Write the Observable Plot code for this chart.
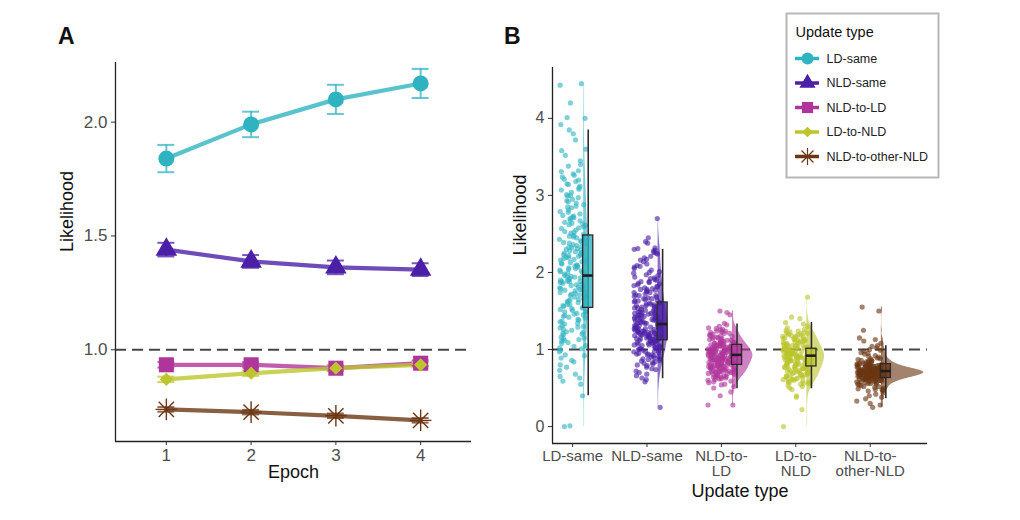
<!DOCTYPE html>
<html><head><meta charset="utf-8">
<script src="https://cdn.jsdelivr.net/npm/d3@7"></script>
<script src="https://cdn.jsdelivr.net/npm/@observablehq/plot@0.6"></script>
<style>
body{margin:0;background:#fff;font-family:"Liberation Sans",Arial,Helvetica,sans-serif;}
#wrap{position:relative;width:1020px;height:520px;overflow:hidden;background:#fff;}
.panel{position:absolute;top:0;}
.tag{position:absolute;font-weight:bold;font-size:23px;color:#111;line-height:1;}
</style></head><body><div id="wrap"></div>
<script>
// ---------- data ----------
const types = ["LD-same","NLD-same","NLD-to-LD","LD-to-NLD","NLD-to-other-NLD"];
const typeColors = ["#2fb3c1","#4b1fa6","#b0359b","#bcc52d","#6b3714"];
const epochs = [1,2,3,4];

// Panel A: mean likelihood per epoch and its standard error
const meanLDsame = [1.84, 1.99, 2.10, 2.17];
const seLDsame   = [0.060, 0.056, 0.064, 0.064];
const meanNLDsame = [1.440, 1.388, 1.362, 1.352];
const seNLDsame   = [0.030, 0.028, 0.030, 0.028];
const meanNLDtoLD = [0.934, 0.934, 0.919, 0.941];
const seNLDtoLD   = [0.012, 0.012, 0.012, 0.012];
const meanLDtoNLD = [0.870, 0.897, 0.919, 0.934];
const seLDtoNLD   = [0.012, 0.012, 0.012, 0.012];
const meanNLDother = [0.738, 0.726, 0.710, 0.690];
const seNLDother   = [0.010, 0.010, 0.010, 0.010];

// Panel B: individual likelihoods
const ptsLDsame = [0.00,0.01,0.40,0.55,0.59,0.63,0.65,0.68,0.73,0.77,0.80,0.84,0.86,0.89,0.92,0.93,0.97,0.99,
1.01,1.04,1.05,1.08,1.09,1.11,1.13,1.15,1.16,1.19,1.20,1.22,1.23,1.25,
1.26,1.28,1.29,1.31,1.33,1.34,1.36,1.37,1.39,1.41,1.42,1.44,1.45,1.47,1.48,1.49,
1.50,1.51,1.53,1.54,1.55,1.56,1.58,1.59,1.60,1.61,1.62,1.64,1.65,1.66,1.67,1.68,1.69,1.70,1.71,1.72,1.73,1.74,
1.75,1.76,1.77,1.78,1.79,1.80,1.81,1.83,1.84,1.85,1.86,1.87,1.88,1.89,1.90,1.91,1.92,1.93,1.94,1.95,1.96,1.97,1.98,1.99,
2.00,2.01,2.02,2.04,2.05,2.06,2.07,2.08,2.10,2.11,2.12,2.13,2.14,2.15,2.16,2.18,2.19,2.20,2.21,2.22,2.23,2.24,
2.25,2.27,2.28,2.29,2.30,2.32,2.33,2.34,2.35,2.37,2.38,2.39,2.41,2.42,2.43,2.44,2.45,2.46,2.48,2.49,
2.51,2.53,2.55,2.57,2.59,2.61,2.63,2.65,2.67,2.68,2.70,2.71,2.73,2.74,
2.76,2.79,2.81,2.84,2.86,2.88,2.90,2.93,2.95,2.97,2.99,
3.01,3.04,3.07,3.10,3.12,3.15,3.18,3.21,3.24,3.28,3.32,3.38,3.40,3.45,
3.52,3.58,3.60,3.72,3.80,3.85,3.92,4.00,4.01,4.20,4.43,4.45,
1.02,1.12,1.21,1.30,1.38,1.46,1.52,1.57,1.63,1.70,1.77,1.82,1.88,1.94,2.03,2.09,2.17,2.26,2.31,2.36,
2.40,2.47,2.52,2.58,2.64,2.72,2.78,2.85,2.92,3.00,3.08,3.14,3.20,3.26,3.31,1.14,1.43,1.88,2.22,2.62];
const ptsNLDsame = [0.25,0.58,0.61,0.63,0.66,0.68,0.70,0.72,0.74,0.75,0.77,0.79,
0.80,0.81,0.83,0.84,0.85,0.86,0.87,0.88,0.89,
0.90,0.91,0.92,0.93,0.93,0.94,0.95,0.96,0.97,0.97,0.98,0.99,
1.00,1.01,1.01,1.02,1.03,1.04,1.04,1.05,1.06,1.06,1.07,1.08,1.08,1.09,1.09,
1.10,1.11,1.11,1.12,1.12,1.13,1.14,1.14,1.15,1.15,1.16,1.16,1.17,1.17,1.18,1.18,1.19,1.19,
1.20,1.20,1.21,1.21,1.22,1.22,1.23,1.23,1.24,1.24,1.25,1.25,1.26,1.26,1.27,1.27,1.28,1.28,1.29,
1.30,1.30,1.31,1.31,1.32,1.33,1.33,1.34,1.34,1.35,1.35,1.36,1.36,1.37,1.38,1.38,1.39,1.39,
1.40,1.41,1.41,1.42,1.43,1.43,1.44,1.45,1.45,1.46,1.47,1.47,1.48,1.49,1.49,
1.50,1.51,1.52,1.53,1.54,1.55,1.56,1.56,1.57,1.58,1.59,1.59,1.60,
1.61,1.62,1.63,1.64,1.65,1.66,1.67,1.68,1.69,1.70,
1.71,1.72,1.74,1.75,1.76,1.77,1.78,1.79,1.80,
1.81,1.82,1.84,1.85,1.86,1.87,1.88,1.90,1.91,1.92,1.94,1.96,1.97,1.99,
2.01,2.03,2.05,2.07,2.09,2.11,2.14,2.17,2.19,
2.21,2.24,2.26,2.28,2.29,2.30,2.32,2.38,2.40,2.45,2.70,
0.82,0.88,0.94,0.98,1.02,1.05,1.08,1.11,1.13,1.16,1.19,1.21,1.23,1.25,1.27,1.29,1.31,1.33,1.35,1.37,
1.40,1.42,1.44,1.46,1.48,1.51,1.54,1.57,1.60,1.63,1.66,1.70,1.74,1.78,1.83,1.88,1.93,2.00,2.08,2.16,2.25,2.31];
const ptsNLDtoLD = [0.28,0.28,0.40,0.45,
0.50,0.52,0.54,0.55,0.57,0.58,0.59,
0.60,0.61,0.62,0.63,0.64,0.64,0.65,0.66,0.67,0.67,0.68,0.69,0.69,
0.70,0.70,0.71,0.71,0.72,0.72,0.73,0.73,0.74,0.74,0.75,0.75,0.76,0.76,0.77,0.77,0.78,0.78,0.79,0.79,0.79,
0.80,0.80,0.81,0.81,0.82,0.82,0.83,0.83,0.84,0.84,0.84,0.85,0.85,0.86,0.86,0.87,0.87,0.87,0.88,0.88,0.89,0.89,0.89,
0.90,0.90,0.91,0.91,0.91,0.92,0.92,0.92,0.93,0.93,0.93,0.94,0.94,0.94,0.95,0.95,0.96,0.96,0.96,0.97,0.97,0.98,0.98,0.98,0.99,0.99,
1.00,1.00,1.01,1.01,1.02,1.02,1.03,1.03,1.04,1.04,1.05,1.05,1.06,1.06,1.07,1.07,1.08,1.08,1.09,1.09,1.10,
1.11,1.11,1.12,1.13,1.14,1.15,1.16,1.17,1.18,1.19,1.20,1.21,1.22,1.23,1.24,1.25,1.26,1.27,1.28,1.30,1.32,1.34,
1.45,1.48,1.50,
0.62,0.66,0.68,0.71,0.73,0.74,0.76,0.77,0.78,0.80,0.81,0.82,0.83,0.84,0.85,0.86,0.87,0.88,0.88,0.89,
0.90,0.91,0.92,0.92,0.93,0.94,0.95,0.95,0.96,0.97,0.98,0.99,1.00,1.01,1.02,1.03,1.04,1.05,1.06,1.07,
1.08,1.10,1.12,1.14,1.16,1.18,1.21,1.24,0.70,0.75,0.79,0.87,0.91,0.94,0.97,1.00,0.64,0.72,1.09,1.13];
const ptsLDtoNLD = [0.00,0.22,0.38,0.40,
0.48,0.50,0.52,0.53,0.55,0.56,0.57,0.58,0.59,
0.60,0.61,0.62,0.63,0.64,0.65,0.66,0.66,0.67,0.68,0.69,
0.70,0.70,0.71,0.72,0.72,0.73,0.74,0.74,0.75,0.76,0.76,0.77,0.78,0.78,0.79,0.79,
0.80,0.80,0.81,0.82,0.82,0.83,0.83,0.84,0.84,0.85,0.85,0.86,0.86,0.87,0.87,0.88,0.88,0.89,0.89,
0.90,0.90,0.91,0.91,0.92,0.92,0.92,0.93,0.93,0.94,0.94,0.95,0.95,0.96,0.96,0.97,0.97,0.98,0.98,0.99,0.99,
1.00,1.00,1.01,1.01,1.02,1.03,1.03,1.04,1.05,1.05,1.06,1.07,1.07,1.08,1.09,1.10,
1.11,1.12,1.13,1.14,1.15,1.16,1.17,1.18,1.19,1.20,1.21,1.22,1.23,1.24,1.26,1.28,1.30,1.33,1.35,
1.40,1.42,1.68,
0.56,0.59,0.62,0.64,0.67,0.69,0.71,0.73,0.75,0.77,0.79,0.81,0.83,0.85,0.87,0.89,0.90,0.91,0.93,0.94,
0.95,0.97,0.98,0.99,1.00,1.02,1.04,1.06,1.08,1.10,1.12,1.14,1.16,1.18,1.20,1.22,1.25,0.61,0.66,0.70,
0.74,0.78,0.82,0.86,0.88,0.92,0.96,1.01,1.05,1.09,1.13,1.17,1.21,0.58,0.68,0.80,0.84,0.93,1.03,1.11];
const ptsNLDother = [0.25,0.28,0.30,0.33,0.36,0.38,0.40,0.42,0.44,0.46,0.47,0.48,0.49,
0.50,0.51,0.52,0.53,0.54,0.55,0.56,0.56,0.57,0.58,0.58,0.59,0.59,
0.60,0.60,0.61,0.61,0.61,0.62,0.62,0.62,0.63,0.63,0.63,0.63,0.64,0.64,0.64,0.64,
0.65,0.65,0.65,0.65,0.65,0.66,0.66,0.66,0.66,0.66,0.67,0.67,0.67,0.67,0.67,0.67,
0.68,0.68,0.68,0.68,0.68,0.68,0.69,0.69,0.69,0.69,0.69,0.69,
0.70,0.70,0.70,0.70,0.70,0.70,0.70,0.71,0.71,0.71,0.71,0.71,0.71,0.72,0.72,0.72,0.72,0.72,0.72,
0.73,0.73,0.73,0.73,0.73,0.73,0.74,0.74,0.74,0.74,0.74,
0.75,0.75,0.75,0.75,0.76,0.76,0.76,0.76,0.77,0.77,0.77,0.78,0.78,0.78,0.79,0.79,0.79,
0.80,0.80,0.81,0.81,0.82,0.82,0.83,0.84,0.85,0.86,0.87,0.88,0.89,
0.90,0.92,0.94,0.96,0.98,1.00,1.02,1.05,1.08,1.11,1.13,1.15,1.25,1.50,1.55,
0.48,0.52,0.55,0.57,0.59,0.61,0.62,0.63,0.64,0.65,0.66,0.66,0.67,0.68,0.68,0.69,0.69,0.70,0.70,0.70,
0.71,0.71,0.72,0.72,0.73,0.73,0.74,0.74,0.75,0.76,0.77,0.78,0.79,0.80,0.82,0.84,0.86,0.88,0.91,0.95,
0.99,1.04,0.58,0.60,0.64,0.67,0.71,0.75,0.81,0.85];

// Panel B box-plot statistics
const boxQ1  = [1.54, 1.12, 0.80, 0.78, 0.63];
const boxMed = [1.96, 1.33, 0.93, 0.92, 0.72];
const boxQ3  = [2.48, 1.61, 1.06, 1.01, 0.81];
const whiskLo = [0.40, 0.62, 0.49, 0.49, 0.36];
const whiskHi = [3.85, 2.30, 1.33, 1.35, 1.05];

// Tick labels
const tickLabelsB = ["LD-same","NLD-same","NLD-to-\nLD","LD-to-\nNLD","NLD-to-\nother-NLD"];
const ticksA = [1.0, 1.5, 2.0];
const ticksB = [0, 1, 2, 3, 4];

// ---------- build tables ----------
const font = '"Liberation Sans", Arial, Helvetica, sans-serif';
const meansA = [meanLDsame, meanNLDsame, meanNLDtoLD, meanLDtoNLD, meanNLDother];
const sesA = [seLDsame, seNLDsame, seNLDtoLD, seLDtoNLD, seNLDother];
const dataA = types.flatMap((t, k) => epochs.map((e, i) => ({type: t, epoch: e, value: meansA[k][i], se: sesA[k][i]})));
const shapeA = ["circle", "triangle", "square", "diamond2"];
const rA = [8, 8, 8.5, 6];

// horizontal jitter position: deterministic integer hash of the point index (layout only)
function jitter(i) {
  let h = (i + 1) | 0;
  h ^= h >>> 16; h = Math.imul(h, 0x45d9f3b);
  h ^= h >>> 16; h = Math.imul(h, 0x45d9f3b);
  h ^= h >>> 16;
  return (h >>> 0) / 4294967296 - 0.5;
}
const ptsAll = [ptsLDsame, ptsNLDsame, ptsNLDtoLD, ptsLDtoNLD, ptsNLDother];
const cloud = ptsAll.flatMap((arr, k) => arr.map((v, i) => ({type: types[k], g: k + 1, v, j: jitter(i + 1000 * k)})));
const boxes = types.map((t, k) => ({type: t, g: k + 1, q1: boxQ1[k], med: boxMed[k], q3: boxQ3[k], lo: whiskLo[k], hi: whiskHi[k]}));

function kde(values) {
  const v = d3.sort(values);
  const n = v.length, sd = d3.deviation(v), iqr = d3.quantile(v, 0.75) - d3.quantile(v, 0.25);
  const h = 0.9 * Math.min(sd, iqr / 1.34) * Math.pow(n, -0.2);
  const lo = v[0], hi = v[n - 1];
  return d3.range(0, 161).map(s => {
    const y = lo + (hi - lo) * s / 160;
    return {y, d: d3.mean(v, x => Math.exp(-0.5 * ((y - x) / h) ** 2)) / (h * Math.sqrt(2 * Math.PI))};
  });
}
const violin = ptsAll.flatMap((arr, k) => kde(arr).map(p => ({type: types[k], g: k + 1, y: p.y, d: p.d})));
const maxD = d3.max(violin, p => p.d);
const vScale = 0.57 / maxD;
const ranges = ptsAll.map((arr, k) => ({type: types[k], g: k + 1, lo: d3.min(arr), hi: d3.max(arr)}));

const wrap = document.getElementById("wrap");
function place(node, left, top) {
  const d = document.createElement("div");
  d.className = "panel"; d.style.left = left + "px"; d.style.top = top + "px";
  d.appendChild(node); wrap.appendChild(d);
}
const tickStyle = {tickSize: 4, stroke: "#333", label: null, tickFormat: () => ""};
const dash = {stroke: "#454545", strokeWidth: 2, strokeDasharray: "11,6"};

// ---------- Panel A ----------
const xDomA = [0.4, 4.6], yDomA = [0.597, 2.262];
const dotMarksA = shapeA.map((s, k) => Plot.dot(dataA.filter(d => d.type === types[k]),
  {x: "epoch", y: "value", symbol: s, r: rA[k], fill: "type", stroke: "none"}));
const brownA = dataA.filter(d => d.type === types[4]);
const plotA = Plot.plot({
  width: 500, height: 520, marginLeft: 115, marginRight: 29, marginTop: 62, marginBottom: 79,
  style: {fontFamily: font, fontSize: "16px", background: "transparent", overflow: "visible"},
  x: {domain: xDomA}, y: {domain: yDomA},
  color: {domain: types, range: typeColors},
  marks: [
    Plot.ruleY([1], dash),
    Plot.line(dataA, {x: "epoch", y: "value", z: "type", stroke: "type", strokeWidth: 4.2, strokeOpacity: 0.8}),
    Plot.ruleX(dataA, {x: "epoch", y1: d => d.value - d.se, y2: d => d.value + d.se, stroke: "type", strokeWidth: 2, strokeOpacity: 0.75}),
    Plot.ruleY(dataA, {y: d => d.value - d.se, x1: d => d.epoch - 0.1, x2: d => d.epoch + 0.1, stroke: "type", strokeWidth: 2, strokeOpacity: 0.75}),
    Plot.ruleY(dataA, {y: d => d.value + d.se, x1: d => d.epoch - 0.1, x2: d => d.epoch + 0.1, stroke: "type", strokeWidth: 2, strokeOpacity: 0.75}),
    ...dotMarksA,
    Plot.dot(brownA, {x: "epoch", y: "value", symbol: "plus", r: 7, fill: "none", stroke: "type", strokeWidth: 1.4}),
    Plot.dot(brownA, {x: "epoch", y: "value", symbol: "times", r: 7, fill: "none", stroke: "type", strokeWidth: 1.4}),
    Plot.ruleX([xDomA[0]], {stroke: "#222", strokeWidth: 1.3}),
    Plot.ruleY([yDomA[0]], {stroke: "#222", strokeWidth: 1.3}),
    Plot.axisX(epochs, tickStyle),
    Plot.axisY(ticksA, tickStyle),
    Plot.text(epochs, {x: d => d, frameAnchor: "bottom", dy: 7, lineAnchor: "top", text: d => String(d), fontSize: 17, fill: "#4d4d4d"}),
    Plot.text(ticksA, {y: d => d, frameAnchor: "left", dx: -8, textAnchor: "end", text: d3.format(".1f"), fontSize: 17, fill: "#4d4d4d"}),
    Plot.text(["Epoch"], {frameAnchor: "bottom", dy: 36, fontSize: 18, fill: "#111"}),
    Plot.text(["Likelihood"], {frameAnchor: "left", dx: -48, rotate: -90, fontSize: 18, fill: "#111"})
  ]
});
place(plotA, 0, 0);

// ---------- Panel B ----------
const xDomB = [0.73, 5.77], yDomB = [-0.22, 4.66];
const vOff = 0.15, bOff = 0.21, bHalf = 0.068, jitW = 0.36;
const catsB = [1, 2, 3, 4, 5];
const plotB = Plot.plot({
  width: 520, height: 520, marginLeft: 52, marginRight: 93, marginTop: 67, marginBottom: 77,
  style: {fontFamily: font, fontSize: "15px", background: "transparent", overflow: "visible"},
  x: {domain: xDomB}, y: {domain: yDomB},
  color: {domain: types, range: typeColors},
  marks: [
    Plot.ruleY([1], dash),
    Plot.ruleX(ranges, {x: d => d.g + vOff, y1: "lo", y2: "hi", stroke: "type", strokeOpacity: 0.15}),
    Plot.areaX(violin, {y: "y", x1: d => d.g + vOff, x2: d => d.g + vOff + d.d * vScale, z: "type", fill: "type", fillOpacity: 0.62}),
    Plot.dot(cloud, {x: d => d.g + d.j * jitW, y: "v", r: 2.6, fill: "type", fillOpacity: 0.62, stroke: "none"}),
    Plot.ruleX(boxes, {x: d => d.g + bOff, y1: "lo", y2: "hi", stroke: "#2b2b2b", strokeWidth: 1.6}),
    Plot.rect(boxes, {x1: d => d.g + bOff - bHalf, x2: d => d.g + bOff + bHalf, y1: "q1", y2: "q3", fill: "type", fillOpacity: 0.8, stroke: "#2b2b2b", strokeWidth: 1.3}),
    Plot.ruleY(boxes, {y: "med", x1: d => d.g + bOff - bHalf, x2: d => d.g + bOff + bHalf, stroke: "#1e1e1e", strokeWidth: 2.6}),
    Plot.ruleX([xDomB[0]], {stroke: "#222", strokeWidth: 1.3}),
    Plot.ruleY([yDomB[0]], {stroke: "#222", strokeWidth: 1.3}),
    Plot.axisX(catsB, tickStyle),
    Plot.axisY(ticksB, tickStyle),
    Plot.text(catsB, {x: d => d, frameAnchor: "bottom", dy: 6, lineAnchor: "top", lineHeight: 1.05, text: d => tickLabelsB[d - 1], fontSize: 15, fill: "#4d4d4d"}),
    Plot.text(ticksB, {y: d => d, frameAnchor: "left", dx: -8, textAnchor: "end", text: d => String(d), fontSize: 16, fill: "#4d4d4d"}),
    Plot.text(["Update type"], {frameAnchor: "bottom", dy: 53, fontSize: 18, fill: "#111"}),
    Plot.text(["Likelihood"], {frameAnchor: "left", dx: -32, rotate: -90, fontSize: 18, fill: "#111"})
  ]
});
place(plotB, 500, 0);

// ---------- Legend ----------
const LW = 154, LH = 166;
const entries = types.map((t, i) => ({t, i}));
const legY = d => 46 + d.i * 24.5;
const legSym = ["circle", "triangle", "square", "diamond2"];
const legR = [6, 6, 6.3, 4.8];
const legend = Plot.plot({
  width: LW, height: LH, margin: 0,
  style: {fontFamily: font, background: "transparent", overflow: "visible"},
  x: {domain: [0, LW], range: [0, LW], axis: null},
  y: {domain: [0, LH], range: [0, LH], axis: null},
  color: {domain: types, range: typeColors},
  marks: [
    Plot.frame({fill: "white", stroke: "#b8b8b8", strokeWidth: 2, inset: 1}),
    Plot.text(["Update type"], {x: 10, y: 20, text: d => d, textAnchor: "start", fontSize: 14.5, fill: "#111"}),
    Plot.ruleY(entries, {y: legY, x1: 10, x2: 34, stroke: "t", strokeWidth: 3.5}),
    ...legSym.map((s, k) => Plot.dot(entries.filter(d => d.i === k), {x: 22, y: legY, symbol: s, r: legR[k], fill: "t", stroke: "none"})),
    Plot.dot(entries.filter(d => d.i === 4), {x: 22, y: legY, symbol: "plus", r: 5.5, fill: "none", stroke: "t", strokeWidth: 1.2}),
    Plot.dot(entries.filter(d => d.i === 4), {x: 22, y: legY, symbol: "times", r: 5.5, fill: "none", stroke: "t", strokeWidth: 1.2}),
    Plot.text(entries, {x: 41, y: legY, text: "t", textAnchor: "start", fontSize: 12.5, fill: "#222"})
  ]
});
place(legend, 785, 12);

// ---------- panel tags ----------
for (const [txt, left] of [["A", 58], ["B", 504]]) {
  const d = document.createElement("div");
  d.className = "tag"; d.textContent = txt; d.style.left = left + "px"; d.style.top = "25px";
  wrap.appendChild(d);
}
</script></body></html>
